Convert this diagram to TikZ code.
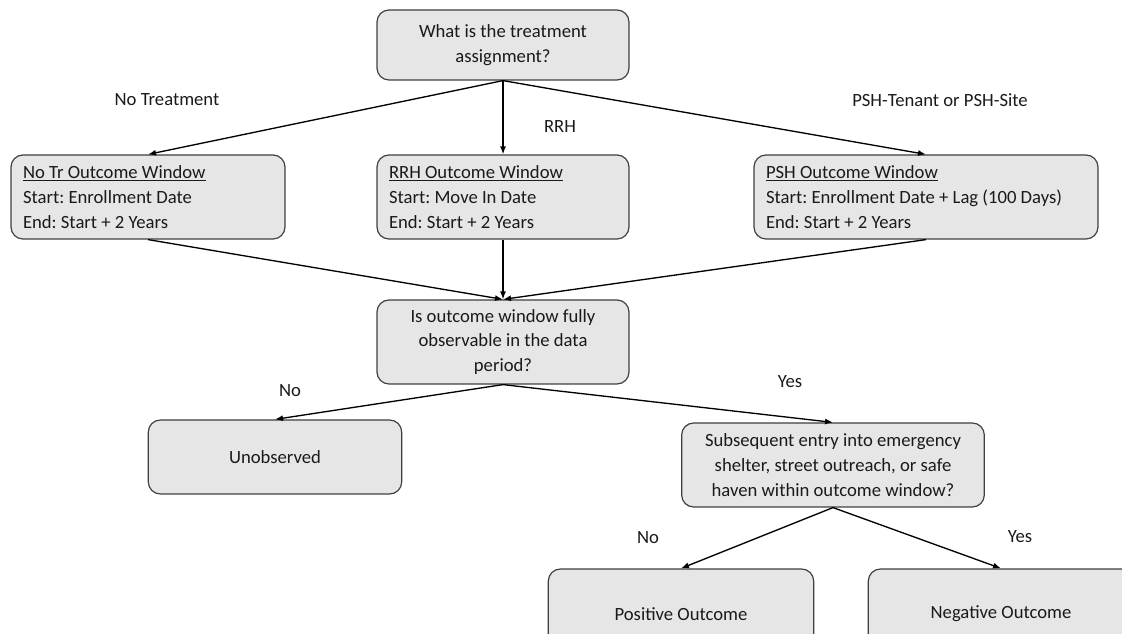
\documentclass[tikz,border=0pt]{standalone}
\usepackage{fontspec}
\setmainfont{Carlito}
\frenchspacing
\usepackage{tikz}
\usetikzlibrary{arrows.meta,positioning}
\definecolor{boxLine}{HTML}{404040}
\definecolor{boxFill}{HTML}{E7E6E6}
\definecolor{inkC}{HTML}{1A1A1A}
\tikzset{
  >=Latex,
  stepBox/.style={draw=boxLine,line width=0.9pt,rounded corners=9pt,
                  fill=boxFill,font=\fontsize{14}{18.5}\selectfont,text=inkC,
                  inner sep=4pt,align=center},
  windowBox/.style={stepBox,align=flush left,inner xsep=9pt,text width=#1,
                    minimum height=63pt},
  flow/.style={-{Latex[length=6pt,width=4.5pt]},line width=1pt,black},
  branchLabel/.style={font=\fontsize{14}{18.5}\selectfont,text=inkC,inner sep=1pt},
}

\begin{document}
\begin{tikzpicture}[x=0.75pt,y=-0.75pt]
\useasboundingbox (0,0) rectangle (1122,634);

% treatment split
\node[stepBox,minimum width=189pt,minimum height=52.5pt]
      (assign) at (503,45) {What is the treatment\\assignment?};
\node[windowBox=187.5pt] (noTr) at (148,197)
      {\underline{No Tr Outcome Window}\\Start: Enrollment Date\\End: Start + 2 Years};
\node[windowBox=171pt] (rrh) at (503,197)
      {\underline{RRH Outcome Window}\\Start: Move In Date\\End: Start + 2 Years};
\node[windowBox=240pt] (psh) at (926,197)
      {\underline{PSH Outcome Window}\\Start: Enrollment Date + Lag (100 Days)\\End: Start + 2 Years};

\node[branchLabel] (lblNoTreat) at (167,100) {No Treatment};
\node[branchLabel] (lblRrh)     at (560,127) {RRH};
\node[branchLabel] (lblPsh)     at (940,100) {PSH-Tenant or PSH-Site};

% observability and outcome
\node[stepBox,minimum width=189pt,minimum height=63pt]
      (observable) at (503,342) {Is outcome window fully\\observable in the data\\period?};
\node[stepBox,minimum width=190pt,minimum height=55.5pt]
      (unobs) at (275,457) {Unobserved};
\node[stepBox,minimum width=227pt,minimum height=63pt]
      (reentry) at (833,465)
      {Subsequent entry into emergency\\shelter, street outreach, or safe\\haven within outcome window?};
\node[stepBox,minimum width=199pt,minimum height=67.5pt]
      (positive) at (681,614) {Positive Outcome};
\node[stepBox,minimum width=199pt,minimum height=67.5pt]
      (negative) at (1001,614) {Negative Outcome};

\node[branchLabel] (lblNoObs)   at (290,391) {No};
\node[branchLabel] (lblYesObs)  at (790,382) {Yes};
\node[branchLabel] (lblNoEntry) at (648,538) {No};
\node[branchLabel] (lblYesEntry) at (1020,537) {Yes};

\draw[flow] (assign.south) -- (noTr.north);
\draw[flow] (assign.south) -- (rrh.north);
\draw[flow] (assign.south) -- (psh.north);
\draw[flow] (noTr.south) -- (observable.north);
\draw[flow] (rrh.south)  -- (observable.north);
\draw[flow] (psh.south)  -- (observable.north);
\draw[flow] (observable.south) -- (unobs.north);
\draw[flow] (observable.south) -- (reentry.north);
\draw[flow] (reentry.south) -- (positive.north);
\draw[flow] (reentry.south) -- (negative.north);

\end{tikzpicture}
\end{document}
